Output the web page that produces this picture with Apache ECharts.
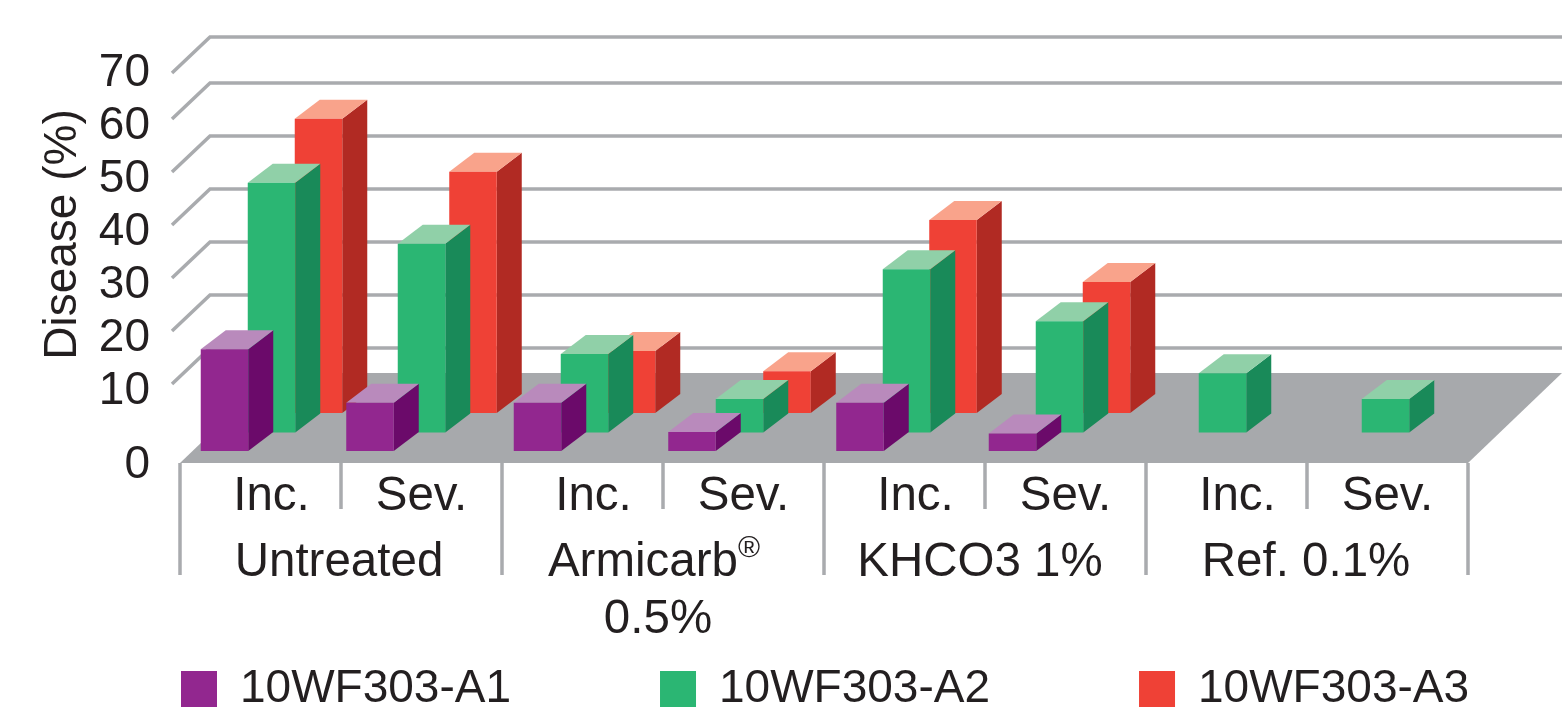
<!DOCTYPE html>
<html>
<head>
<meta charset="utf-8">
<style>
html,body{margin:0;padding:0;background:#fff;}
#chart{width:1565px;height:708px;}
</style>
<script src="https://cdn.jsdelivr.net/npm/echarts@6/dist/echarts.min.js"></script>
</head>
<body>
<div id="chart"></div>
<script>
// data
var measures = ['Inc.','Sev.','Inc.','Sev.','Inc.','Sev.','Inc.','Sev.'];
var treatments = ['Untreated','Armicarb®\n0.5%','KHCO3 1%','Ref. 0.1%'];
var yTicks = [10,20,30,40,50,60,70];
var seriesNames = ['10WF303-A1','10WF303-A2','10WF303-A3'];
var a1Values = [19.2, 9.1, 9.1, 3.6, 9.1, 3.3, null, null];
var a2Values = [47.1, 35.6, 14.8, 6.3, 30.8, 21.0, 11.2, 6.3];
var a3Values = [55.5, 45.5, 11.7, 7.9, 36.4, 24.7, null, null];

// the source art was placed by hand, so each group sits a bit off its band
var groupNudge = [11, 0, 2, -4, 2, -6, -4, -2];
var groupStep = [47, 51.5, 47, 47.5, 46.5, 47, 47, 47];

var fontName = '"Liberation Sans", Arial, sans-serif';
var textColor = '#231f20';
var lineColor = '#a9abae';
var barWidth = 47.5;
var depthX = 25;
var depthY = 19;

// front face colour, side, top. row: how far back the bars stand, base: px from value 0
var looks = [
    {front:'#92278f', side:'#6b0a6a', top:'#b98abc', row:-1, base:14},
    {front:'#2bb673', side:'#198a59', top:'#90d0a8', row:0, base:-4.5},
    {front:'#ef4136', side:'#b12a23', top:'#f9a38b', row:1, base:-24}
];

function toPoints(values){
    var out = [];
    for(var i=0;i<values.length;i++){
        if(values[i]!==null) out.push([i,values[i]]);
    }
    return out;
}

function renderBar(look){
    return function(params,api){
        var idx = api.value(0);
        var c = api.coord([idx,api.value(1)]);
        var x = c[0]+groupNudge[idx]-barWidth/2+look.row*groupStep[idx];
        var top = c[1]+look.base;
        var bottom = api.coord([idx,0])[1]+look.base;
        var r = x+barWidth;
        return {
            type:'group',
            children:[
                {type:'polygon',shape:{points:[[r,top],[r+depthX,top-depthY],[r+depthX,bottom-depthY],[r,bottom]]},style:{fill:look.side}},
                {type:'polygon',shape:{points:[[x,top],[x+depthX,top-depthY],[r+depthX,top-depthY],[r,top]]},style:{fill:look.top}},
                {type:'rect',shape:{x:x,y:top,width:barWidth,height:bottom-top},style:{fill:look.front}}
            ]
        };
    };
}

// back wall lines, with the short diagonal on the left
function renderWall(params,api){
    var box = params.coordSys;
    var v = api.value(0);
    var y = api.coord([0,v])[1];
    if(v===70) y += 7; // top line is drawn lower in the source
    return {
        type:'polyline',
        shape:{points:[[box.x-8,y],[box.x+30,y-36],[box.x+box.width+94,y-36]]},
        style:{stroke:lineColor,lineWidth:3.5,fill:null}
    };
}

function renderFloor(params,api){
    var box = params.coordSys;
    var y0 = api.coord([0,0])[1];
    return {
        type:'polygon',
        shape:{points:[[box.x,y0+26],[box.x+94,y0-64],[box.x+box.width+94,y0-64],[box.x+box.width,y0+26]]},
        style:{fill:'#a7a9ac'}
    };
}

var barData = [a1Values,a2Values,a3Values];
var barSeries = [];
for(var s=0;s<3;s++){
    barSeries.push({
        name:seriesNames[s],
        type:'custom',
        xAxisIndex:0,
        yAxisIndex:0,
        z:10-s,
        itemStyle:{color:looks[s].front},
        encode:{x:0,y:1},
        renderItem:renderBar(looks[s]),
        data:toPoints(barData[s])
    });
}

// padding pushes the labels off centre the same way the source has them
function labelStyle(right,left){
    return {fontFamily:fontName,fontSize:47.5,color:textColor,lineHeight:57,padding:[0,right||0,0,left||0]};
}

var option = {
    animation:false,
    backgroundColor:'#fff',
    textStyle:{fontFamily:fontName},
    legend:{
        left:181,
        top:666,
        padding:0,
        selectedMode:false,
        icon:'rect',
        itemWidth:36,
        itemHeight:36,
        itemGap:149,
        data:seriesNames,
        textStyle:{fontFamily:fontName,fontSize:46,color:textColor,padding:[0,0,0,18]}
    },
    grid:[
        {left:180,right:97,top:66,height:371},
        {left:180,right:97,top:462,height:1}
    ],
    xAxis:[
        {type:'category',gridIndex:0,data:measures,axisLine:{show:false},axisTick:{show:false},axisLabel:{show:false}},
        {
            type:'category',gridIndex:1,data:measures,
            axisLine:{show:false},
            axisTick:{show:true,length:46,interval:0,lineStyle:{color:lineColor,width:3.5}},
            axisLabel:{
                interval:0,margin:5,fontFamily:fontName,fontSize:47.5,color:textColor,
                formatter:function(name){
                    return name==='Inc.' ? '{inc|'+name+'}' : '{sev|'+name+'}';
                },
                rich:{inc:labelStyle(0,22),sev:labelStyle(0,0)}
            }
        },
        {
            type:'category',gridIndex:1,position:'bottom',data:treatments,
            axisLine:{show:false},
            axisTick:{show:true,length:112,interval:0,lineStyle:{color:lineColor,width:3.5}},
            axisLabel:{
                interval:0,margin:71,fontFamily:fontName,fontSize:47.5,color:textColor,
                formatter:function(name,index){
                    var keys = ['m','z','k','n'];
                    var lines = name.split('\n');
                    var head = lines[0].replace('®','');
                    var out = '{'+keys[index]+'|'+head+'}';
                    if(lines[0].indexOf('®')>=0) out += '{sup|®}';
                    if(lines[1]) out += '\n{k|'+lines[1]+'}';
                    return out;
                },
                rich:{
                    n:labelStyle(2,0),
                    m:labelStyle(4,0),
                    k:labelStyle(10,0),
                    z:labelStyle(0,0),
                    sup:{fontFamily:fontName,fontSize:30,color:textColor,lineHeight:57,verticalAlign:'top',padding:[0,18,16,0]}
                }
            }
        }
    ],
    yAxis:[
        {
            type:'value',gridIndex:0,min:0,max:70,interval:10,
            name:'Disease (%)',
            nameLocation:'middle',
            nameGap:94,
            nameTextStyle:{fontFamily:fontName,fontSize:46,color:textColor,padding:[0,0,0,34]},
            axisLine:{show:false},axisTick:{show:false},splitLine:{show:false},
            axisLabel:{
                margin:30,fontFamily:fontName,fontSize:46,color:textColor,
                // labels sit a little under their lines, the 0 well under the floor edge
                formatter:function(v){ return v===0 ? '{zero|0}' : '{tick|'+v+'}'; },
                rich:{
                    tick:{fontFamily:fontName,fontSize:46,color:textColor,padding:[14,0,0,0]},
                    zero:{fontFamily:fontName,fontSize:46,color:textColor,padding:[56,0,0,0]}
                }
            }
        },
        {type:'value',gridIndex:1,show:false}
    ],
    series:[
        {
            type:'custom',xAxisIndex:0,yAxisIndex:0,z:1,silent:true,
            encode:{y:0},
            renderItem:renderWall,
            data:yTicks.map(function(t){ return [t]; })
        },
        {
            type:'custom',xAxisIndex:0,yAxisIndex:0,z:2,silent:true,
            renderItem:renderFloor,
            data:[[0]]
        }
    ].concat(barSeries)
};

var chart = echarts.init(document.getElementById('chart'));
chart.setOption(option);
</script>
</body>
</html>
